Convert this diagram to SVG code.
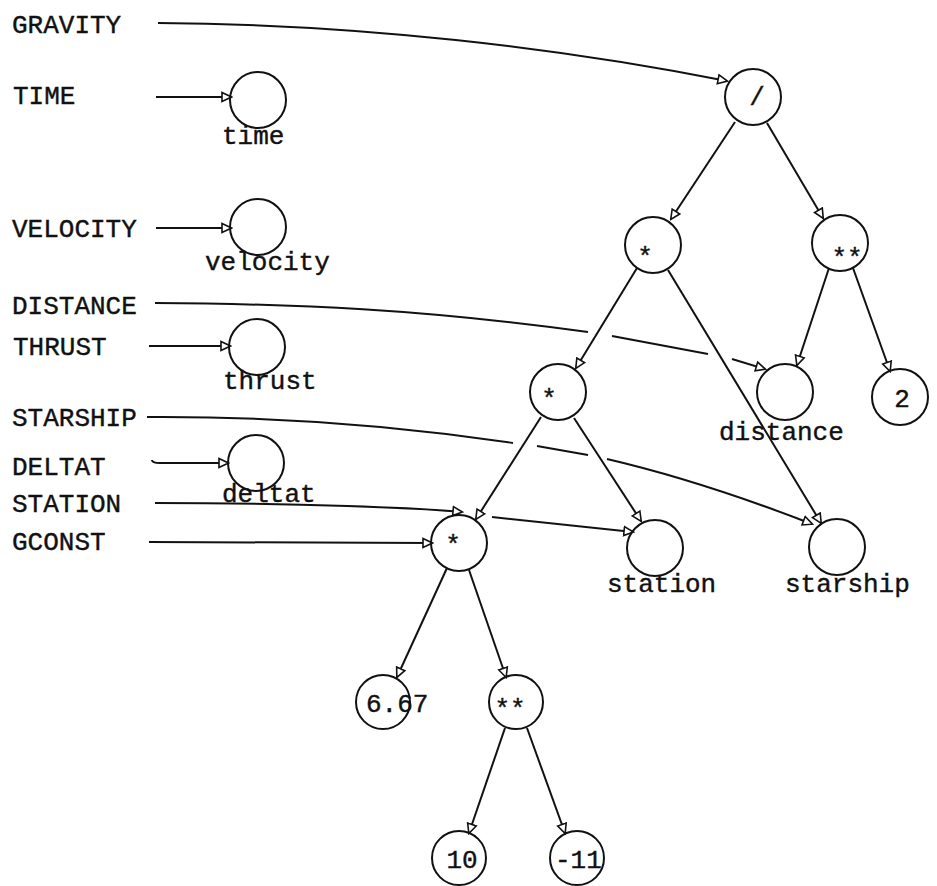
<svg xmlns="http://www.w3.org/2000/svg" width="937" height="886" viewBox="0 0 937 886">
<style>
text{font-family:"Liberation Mono","Courier New",monospace;font-size:26px;fill:#111;stroke:#111;stroke-width:0.4}
.n circle{fill:none;stroke:#111;stroke-width:2}
.c path,.c line{fill:none;stroke:#111;stroke-width:2;marker-end:url(#ah)}
.c .nm{marker-end:none}
.mid{text-anchor:middle}
</style>
<defs>
<marker id="ah" viewBox="0 0 12 12" refX="10" refY="6" markerWidth="12" markerHeight="12" markerUnits="userSpaceOnUse" orient="auto">
<path d="M1,1.5 L10.5,6 L1,10.5 Z" fill="#fff" stroke="#111" stroke-width="1.6"/>
</marker>
</defs>
<rect width="937" height="886" fill="#fff"/>

<g id="input-labels">
<text x="12" y="33">GRAVITY</text>
<text x="13" y="104">TIME</text>
<text x="12" y="237">VELOCITY</text>
<text x="12" y="314">DISTANCE</text>
<text x="13" y="355">THRUST</text>
<text x="12" y="426">STARSHIP</text>
<text x="12" y="475">DELTAT</text>
<text x="12" y="512">STATION</text>
<text x="12" y="550">GCONST</text>
</g>

<g class="c" id="connectors">
<path d="M158,23 C360,24 560,48 727,81"/>
<line x1="156" y1="97" x2="231" y2="97"/>
<line x1="156" y1="228" x2="231" y2="228"/>
<line x1="149" y1="346" x2="230" y2="346"/>
<path d="M152,460 Q152,463 160,463 L228,463"/>
<line x1="149" y1="542" x2="432" y2="543"/>
<path class="nm" d="M155,303 C300,304 420,309 588,332"/>
<line class="nm" x1="612" y1="336" x2="708" y2="354"/>
<line x1="732" y1="359" x2="765" y2="369"/>
<path class="nm" d="M147,417 C300,416 420,429 513,443"/>
<line class="nm" x1="537" y1="446" x2="588" y2="455"/>
<path d="M607,459 C680,476 750,500 812,524"/>
<path d="M155,503 C300,503 420,508 462,512"/>
<path d="M492,517 L633,532"/>
<line x1="735" y1="122" x2="671" y2="219"/>
<line x1="767" y1="123" x2="823" y2="218"/>
<line x1="637" y1="268" x2="576" y2="368"/>
<line x1="668" y1="270" x2="821" y2="523"/>
<line x1="829" y1="268" x2="797" y2="365"/>
<line x1="853" y1="268" x2="890" y2="371"/>
<line x1="541" y1="417" x2="476" y2="519"/>
<line x1="574" y1="418" x2="641" y2="521"/>
<line x1="447" y1="568" x2="397" y2="677"/>
<line x1="469" y1="570" x2="506" y2="677"/>
<line x1="505" y1="728" x2="469" y2="833"/>
<line x1="527" y1="728" x2="565" y2="833"/>
</g>

<g class="n" id="n-time"><circle cx="258" cy="100" r="28"/><text x="222" y="144">time</text></g>
<g class="n" id="n-velocity"><circle cx="258" cy="227" r="28"/><text x="205" y="270">velocity</text></g>
<g class="n" id="n-thrust"><circle cx="257" cy="347" r="28"/><text x="223" y="389">thrust</text></g>
<g class="n" id="n-deltat"><circle cx="256" cy="463" r="28"/><text x="222" y="502">deltat</text></g>

<g class="n" id="n-div"><circle cx="753" cy="97" r="28"/><text class="mid" x="757" y="105">/</text></g>
<g class="n" id="n-mul1"><circle cx="653" cy="245" r="28"/><text class="mid" x="645" y="265">*</text></g>
<g class="n" id="n-pow1"><circle cx="840" cy="243" r="28"/><text class="mid" x="847" y="266">**</text></g>
<g class="n" id="n-mul2"><circle cx="558" cy="392" r="28"/><text class="mid" x="549" y="407">*</text></g>
<g class="n" id="n-distance"><circle cx="785" cy="392" r="28"/><text x="719" y="440">distance</text></g>
<g class="n" id="n-two"><circle cx="900" cy="397" r="28"/><text class="mid" x="902" y="407">2</text></g>
<g class="n" id="n-mul3"><circle cx="459" cy="543" r="28"/><text class="mid" x="453" y="553">*</text></g>
<g class="n" id="n-station"><circle cx="655" cy="548" r="28"/><text x="607" y="592">station</text></g>
<g class="n" id="n-starship"><circle cx="837" cy="547" r="28"/><text x="785" y="592">starship</text></g>
<g class="n" id="n-667"><circle cx="383" cy="702" r="27"/><text x="366" y="712">6.67</text></g>
<g class="n" id="n-pow2"><circle cx="516" cy="702" r="27"/><text class="mid" x="510" y="717">**</text></g>
<g class="n" id="n-ten"><circle cx="459" cy="858" r="27"/><text class="mid" x="462" y="868">10</text></g>
<g class="n" id="n-m11"><circle cx="577" cy="858" r="27"/><text x="555" y="868">-11</text></g>
</svg>
